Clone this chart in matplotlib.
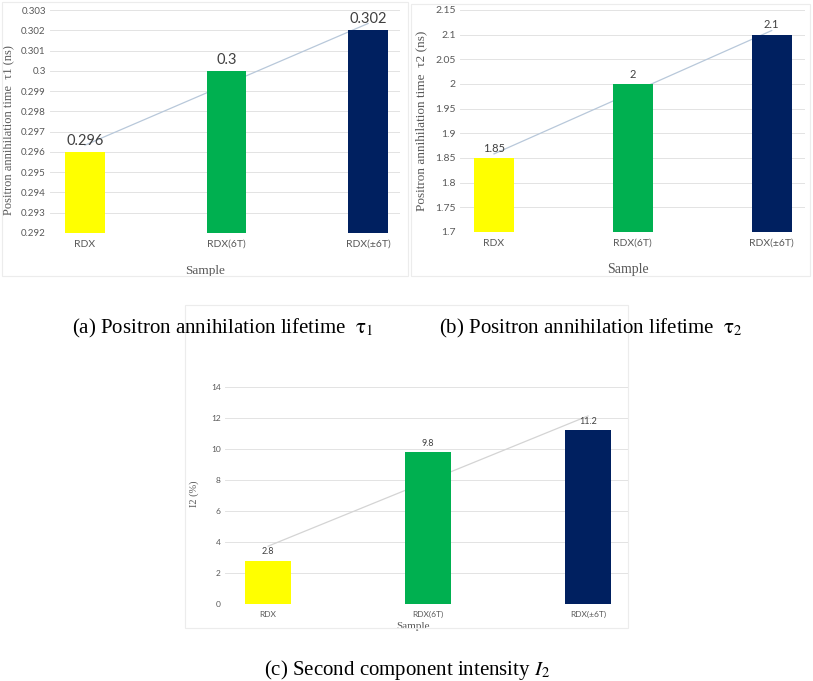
import matplotlib.pyplot as plt
import numpy as np
from matplotlib.patches import Rectangle

samples = ["RDX", "RDX(6T)", "RDX(\u00b16T)"]
colors = ["#FFFF00", "#00B050", "#002060"]

tau1 = [0.296, 0.3, 0.302]
tau1_labels = ["0.296", "0.3", "0.302"]
tau1_ticks = [0.292, 0.293, 0.294, 0.295, 0.296, 0.297, 0.298, 0.299, 0.3, 0.301, 0.302, 0.303]

tau2 = [1.85, 2.0, 2.1]
tau2_labels = ["1.85", "2", "2.1"]
tau2_ticks = [1.7, 1.75, 1.8, 1.85, 1.9, 1.95, 2.0, 2.05, 2.1, 2.15]

i2 = [2.8, 9.8, 11.2]
i2_labels = ["2.8", "9.8", "11.2"]
i2_ticks = [0, 2, 4, 6, 8, 10, 12, 14]

plt.rcParams['mathtext.fontset'] = 'stix'
sans = 'Lato'
serif = 'Liberation Serif'


def drawPanel(ax, vals, labels, ticks, ylabel, xlim, width, fs, ylab_xy, xlab_xy):
    x = np.arange(len(vals))
    tick_fs, lab_fs, cat_fs, title_fs, trend_c = fs
    ax.bar(x, np.array(vals) - ticks[0], bottom=ticks[0], width=width, color=colors, zorder=3)
    # linear trendline like excel
    k, b = np.polyfit(x, vals, 1)
    ax.plot([x[0], x[-1]], [b, b + k * x[-1]], color=trend_c, lw=0.9, zorder=2)
    for xi, v, t in zip(x, vals, labels):
        ax.annotate(t, (xi, v), xytext=(0, 3), textcoords="offset points",
                    ha="center", va="bottom", fontsize=lab_fs, color="#404040",
                    family=sans, zorder=4)
    ax.set_ylim(ticks[0], ticks[-1])
    ax.set_yticks(ticks)
    ax.set_yticklabels([("%g" % t) for t in ticks], fontsize=tick_fs, color="#595959", family=sans)
    ax.set_xticks(x)
    ax.set_xticklabels(samples, fontsize=cat_fs, color="#595959", family=sans)
    ax.set_xlim(*xlim)
    ax.tick_params(axis="x", length=0, pad=5)
    ax.tick_params(axis="y", length=0, pad=3)
    ax.yaxis.grid(True, color="#e3e3e3", lw=0.7, zorder=0)
    for s in ax.spines.values():
        s.set_visible(False)
    ax.set_ylabel(ylabel, fontsize=title_fs, color="#595959", family=serif)
    ax.set_xlabel("Sample", fontsize=title_fs + 0.5, color="#595959", family=serif)
    ax.yaxis.set_label_coords(*ylab_xy)
    ax.xaxis.set_label_coords(*xlab_xy)


fig = plt.figure(figsize=(8.13, 6.81), dpi=100)

# panel borders
for (x0, y0, x1, y1) in [(2, 2, 408, 276), (411, 4, 810, 276), (185, 305, 628, 628)]:
    fig.patches.append(Rectangle((x0 / 813, 1 - y1 / 681), (x1 - x0) / 813, (y1 - y0) / 681,
                                 transform=fig.transFigure, fill=False, ec="#ececec", lw=0.8))

ax1 = fig.add_axes([50 / 813, 1 - 233 / 681, 350 / 813, 223 / 681])
drawPanel(ax1, tau1, tau1_labels, tau1_ticks, "Positron annihilation time  \u03c41 (ns)",
          (-0.247, 2.226), 0.28, (7, 10.5, 7.5, 9, "#b8c8da"),
          (-0.103, 0.46), (0.443, -0.143))

ax2 = fig.add_axes([460 / 813, 1 - 232 / 681, 345 / 813, 222 / 681])
drawPanel(ax2, tau2, tau2_labels, tau2_ticks, "Positron annihilation time  \u03c42 (ns)",
          (-0.245, 2.24), 0.29, (7.5, 8, 7.5, 9.5, "#b8c8da"),
          (-0.095, 0.5), (0.487, -0.14))

ax3 = fig.add_axes([225 / 813, 1 - 604 / 681, 403 / 813, 217 / 681])
drawPanel(ax3, i2, i2_labels, i2_ticks, "I2 (%)",
          (-0.27, 2.25), 0.29, (6, 6.5, 6, 7.5, "#d4d4d4"),
          (-0.065, 0.51), (0.467, -0.083))

fig.text(223 / 813, 1 - 328 / 681, r"(a) Positron annihilation lifetime  $\mathrm{\tau}_1$",
         ha="center", va="center", fontsize=15, family=serif)
fig.text(591 / 813, 1 - 328 / 681, r"(b) Positron annihilation lifetime  $\mathrm{\tau}_2$",
         ha="center", va="center", fontsize=15, family=serif)
fig.text(407 / 813, 1 - 670 / 681, r"(c) Second component intensity $I_2$",
         ha="center", va="center", fontsize=15, family=serif)

plt.savefig("out.png", dpi=100)
